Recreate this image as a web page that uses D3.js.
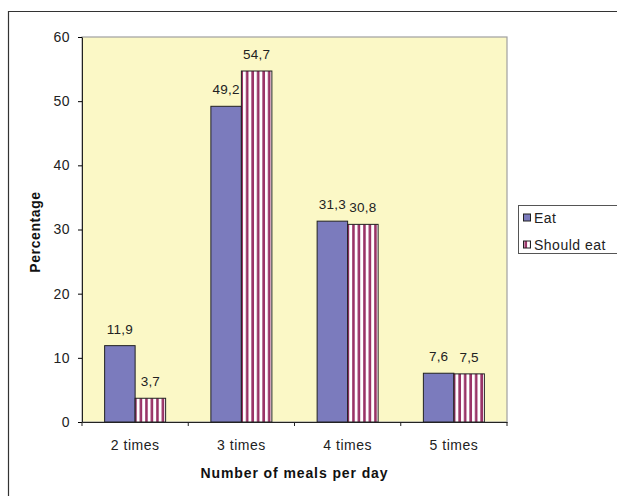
<!DOCTYPE html>
<html><head><meta charset="utf-8">
<script src="https://cdn.jsdelivr.net/npm/d3@7"></script>
<style>body{margin:0;background:#fff}svg{display:block;font-family:"Liberation Sans",Arial,sans-serif}</style>
</head><body><svg id="c" width="617" height="496"></svg>
<script>
const categories = ["2 times","3 times","4 times","5 times"];
const seriesNames = ["Eat","Should eat"];
const eatValues = [11.9, 49.2, 31.3, 7.6];
const shouldEatValues = [3.7, 54.7, 30.8, 7.5];
const yTicks = [0,10,20,30,40,50,60];

const FONT = "Liberation Sans, Arial, sans-serif";
const svg = d3.select("#c");
const M = {left:82, top:37, right:507, bottom:422};
const x = d3.scaleBand().domain(categories).range([M.left, M.right]);
const x1 = d3.scaleBand().domain(seriesNames).range([0, 61]);
const y = d3.scaleLinear().domain([0,60]).range([M.bottom, M.top]);

const defs = svg.append("defs");
const pat = defs.append("pattern").attr("id","stripes").attr("patternUnits","userSpaceOnUse")
  .attr("width",5.5).attr("height",10);
pat.append("rect").attr("width",5.5).attr("height",10).attr("fill","#ffffff");
pat.append("rect").attr("x",2).attr("width",2.6).attr("height",10).attr("fill","#993366");

// outer frame
svg.append("path").attr("d","M8.5,496 V11.5 H617").attr("fill","none").attr("stroke","#333").attr("stroke-width",1.2);

// plot area
svg.append("rect").attr("x",M.left).attr("y",M.top).attr("width",M.right-M.left).attr("height",M.bottom-M.top)
  .attr("fill","#FBF8C6").attr("stroke","#a0a0a0").attr("stroke-width",1.2);

const data = categories.map((c,i)=>({cat:c, vals:[{s:"Eat",v:eatValues[i]},{s:"Should eat",v:shouldEatValues[i]}]}));
const fmt = v => d3.format(".1f")(v).replace(".",",");
const g = svg.append("g").selectAll("g").data(data).join("g")
  .attr("transform", d=>`translate(${x(d.cat)+x.bandwidth()/2-30.5},0)`);
g.selectAll("rect").data(d=>d.vals).join("rect")
  .attr("x", d=>x1(d.s)).attr("width", x1.bandwidth())
  .attr("y", d=>y(d.v)).attr("height", d=>y(0)-y(d.v))
  .attr("fill", d=>d.s==="Eat" ? "#7B7BBD" : "url(#stripes)")
  .attr("stroke","#222").attr("stroke-width",1);
g.selectAll("text").data(d=>d.vals).join("text")
  .attr("x", d=>x1(d.s)+x1.bandwidth()/2).attr("y", d=>y(d.v)-12)
  .attr("text-anchor","middle").attr("font-size",13.5).attr("letter-spacing",0.2)
  .attr("fill","#222").text(d=>fmt(d.v));

// y axis
const ya = svg.append("g").attr("transform",`translate(${M.left},0)`)
  .call(d3.axisLeft(y).tickValues(yTicks).tickSize(4).tickPadding(8).tickSizeOuter(0));
ya.select(".domain").attr("stroke","#222");
ya.selectAll("text").attr("font-size",14).attr("letter-spacing",0.5).attr("fill","#222").attr("font-family",FONT);

// x axis
const xa = svg.append("g").attr("transform",`translate(0,${M.bottom})`)
  .call(d3.axisBottom(x).tickSize(0).tickSizeOuter(0));
xa.select(".domain").attr("stroke","#222");
xa.selectAll("text").attr("y",28).attr("dy",0).attr("font-size",14).attr("letter-spacing",0.5)
  .attr("fill","#222").attr("font-family",FONT);
const bounds = categories.map(c=>x(c)).concat([M.right]);
xa.selectAll(".bt").data(bounds).join("line").attr("class","bt")
  .attr("x1",d=>d).attr("x2",d=>d).attr("y1",0).attr("y2",4).attr("stroke","#222");

// axis titles
svg.append("text").attr("x",(M.left+M.right)/2).attr("y",478).attr("text-anchor","middle")
  .attr("font-size",14).attr("font-weight","bold").attr("letter-spacing",0.9).attr("fill","#111")
  .text("Number of meals per day");
svg.append("text").attr("transform","translate(40,232) rotate(-90)").attr("text-anchor","middle")
  .attr("font-size",14).attr("font-weight","bold").attr("letter-spacing",0.6).attr("fill","#111")
  .text("Percentage");

// legend
const lg = svg.append("g");
lg.append("rect").attr("x",518.5).attr("y",205.5).attr("width",120).attr("height",48)
  .attr("fill","#fff").attr("stroke","#555").attr("stroke-width",1);
seriesNames.forEach((s,i)=>{
  const yy = 218 + i*27;
  lg.append("rect").attr("x",523.5).attr("y",yy-4).attr("width",7).attr("height",7)
    .attr("fill", i===0 ? "#7B7BBD" : "url(#stripes)").attr("stroke","#222");
  lg.append("text").attr("x",534).attr("y",yy+5).attr("font-size",14).attr("letter-spacing",0.5)
    .attr("fill","#222").text(s);
});
</script></body></html>
